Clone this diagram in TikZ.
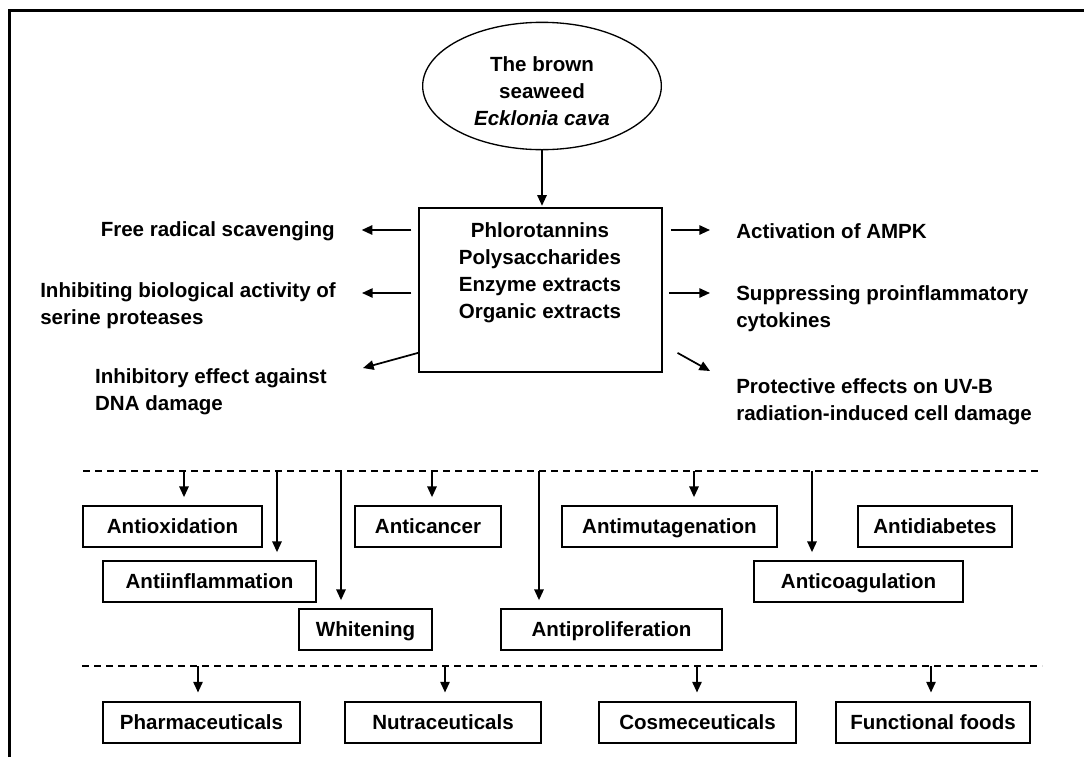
\documentclass[tikz,border=0pt]{standalone}
\usepackage{fontspec}
\setmainfont{Liberation Sans}
\usetikzlibrary{arrows.meta,shapes.geometric,positioning}

\begin{document}
\begin{tikzpicture}[x=0.75pt,y=-0.75pt,
        every node/.style={font=\fontsize{15.4}{20.3}\selectfont\bfseries},
        arr/.style={line width=1.3pt,-{Triangle[length=8pt,width=7pt]}},
        bx/.style={draw,line width=1.3pt,inner sep=0pt,minimum height=30.75pt,text height=11pt,text depth=0.5pt},
        sidetxt/.style={inner sep=0pt,align=left},
        sep/.style={line width=1.4pt,dash pattern=on 5.5pt off 3.5pt}]

        \useasboundingbox (0,0) rectangle (1084,757);
        %\draw (0,0) rectangle (1084,757);
        \draw[line width=2.2pt] (9.5,757) -- (9.5,10.5) -- (1084,10.5);

        % source and extracts
        \node[draw,ellipse,line width=1pt,minimum width=179pt,minimum height=95.5pt,inner sep=0pt] (seaweed) at (542,86) {};
        \node[align=center,inner sep=0pt] (seaweedtxt) at (542,91.5) {The brown\\seaweed\\\textit{Ecklonia cava}};
        \node[draw,line width=1.3pt,minimum width=182.25pt,minimum height=123pt,inner sep=0pt] (extr) at (540.5,290) {};
        \node[align=center,inner sep=0pt] (extrtxt) at (540,273) {Phlorotannins\\Polysaccharides\\Enzyme extracts\\Organic extracts};
        \draw[arr,shorten >=1pt] (seaweed.south) -- (seaweed.south |- extr.north);

        % effects, left side
        \node[sidetxt,anchor=east] (frs) at (335,231) {Free radical scavenging};
        \node[sidetxt,anchor=east] (ser) at (336,306) {Inhibiting biological activity of\\serine proteases};
        \node[sidetxt,anchor=east] (dna) at (327,391.5) {Inhibitory effect against\\DNA damage};
        \draw[arr,shorten <=5pt,shorten >=20pt] (extr.west |- 0,230) -- (frs.east |- 0,230);
        \draw[arr,shorten <=5pt,shorten >=19.5pt] (extr.west |- 0,293) -- (ser.east |- 0,293);
        \coordinate (dnatip) at (363,368);
        \draw[arr] ([yshift=15pt]extr.south west) -- (dnatip);

        % effects, right side
        \node[sidetxt,anchor=west] (ampk) at (736,231) {Activation of AMPK};
        \node[sidetxt,anchor=west] (cyto) at (736,308.5) {Suppressing proinflammatory\\cytokines};
        \node[sidetxt,anchor=west] (uvb) at (736,401.5) {Protective effects on UV-B\\radiation-induced cell damage};
        \draw[arr,shorten <=6pt,shorten >=19.5pt] (extr.east |- 0,230) -- (ampk.west |- 0,230);
        \draw[arr,shorten <=4.5pt,shorten >=19.5pt] (extr.east |- 0,293) -- (cyto.west |- 0,293);
        \coordinate (uvtip) at (710,371);
        \draw[arr] ([xshift=11pt,yshift=15pt]extr.south east) -- (uvtip);

        % activities
        \coordinate (d1w) at (83,471);
        \coordinate (d1e) at (1040,471);
        \draw[sep] (d1w) -- (d1e);
        \node[bx,minimum width=134.25pt] (antiox) at (172.5,526.5) {Antioxidation};
        \node[bx,minimum width=159.75pt] (antiinf) at (209.5,581.5) {Antiinflammation};
        \node[bx,minimum width=99.75pt] (whiten) at (365.5,629.5) {Whitening};
        \node[bx,minimum width=109.5pt] (anticanc) at (428,526.5) {Anticancer};
        \node[bx,minimum width=165.75pt] (antiprol) at (611.5,629.5) {Antiproliferation};
        \node[bx,minimum width=161.25pt] (antimut) at (669.5,526.5) {Antimutagenation};
        \node[bx,minimum width=156.75pt] (anticoag) at (858.5,581.5) {Anticoagulation};
        \node[bx,minimum width=115.5pt] (antidiab) at (935,526.5) {Antidiabetes};
        \foreach \ax/\tgt in {184/antiox, 277/antiinf, 341/whiten, 432/anticanc, 539/antiprol, 694/antimut, 812/anticoag}
            \draw[arr,shorten >=6pt] (d1w -| \ax,0) -- (\tgt.north -| \ax,0);

        % applications
        \coordinate (d2w) at (82,666);
        \coordinate (d2e) at (1042,666);
        \draw[sep] (d2w) -- (d2e);
        \node[bx,minimum width=147.75pt] (pharma) at (201.5,722.5) {Pharmaceuticals};
        \node[bx,minimum width=147pt] (nutra) at (443,722.5) {Nutraceuticals};
        \node[bx,minimum width=147.75pt] (cosme) at (697.5,722.5) {Cosmeceuticals};
        \node[bx,minimum width=145.5pt] (func) at (933,722.5) {Functional foods};
        \foreach \ax/\tgt in {198/pharma, 445/nutra, 697/cosme, 931/func}
            \draw[arr,shorten >=6.5pt] (d2w -| \ax,0) -- (\tgt.north -| \ax,0);
\end{tikzpicture}
\end{document}
